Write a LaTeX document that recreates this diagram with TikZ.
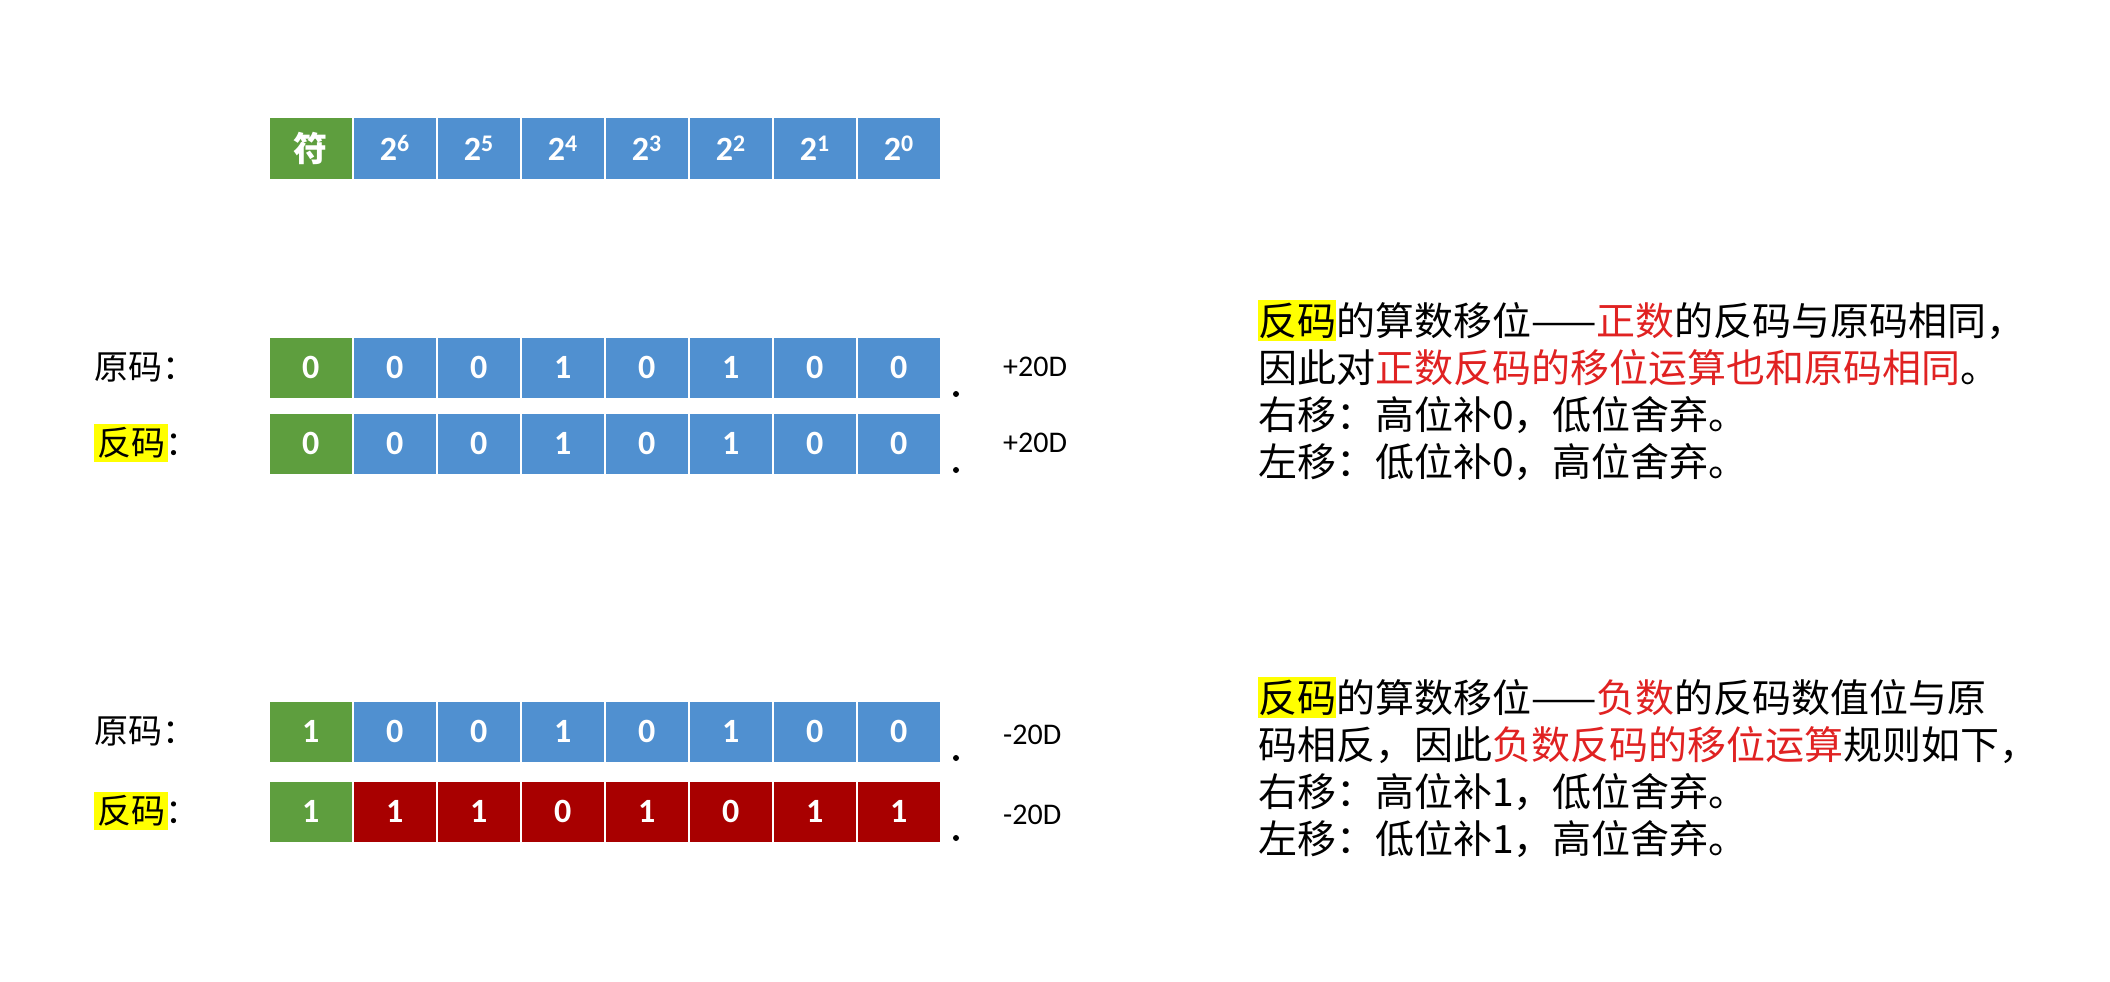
\documentclass[tikz,border=0pt]{standalone}
\usepackage{fontspec}
\setmainfont{Carlito}
\newfontfamily\cjk{Noto Sans CJK SC}
\definecolor{cg}{HTML}{5E9E3E}
\definecolor{cb}{HTML}{5090D0}
\definecolor{cr}{HTML}{A80000}
\definecolor{tr}{HTML}{E02222}
\definecolor{hl}{HTML}{FFFF00}
\begin{document}
\begin{tikzpicture}[x=1pt,y=-1pt,
  cell/.style={draw=white,line width=1.5pt,minimum width=84pt,anchor=north west,text=white,font=\fontsize{34}{34}\selectfont\bfseries,inner sep=0pt},
  lab/.style={anchor=west,font=\cjk\fontsize{34}{40}\selectfont,inner sep=0pt},
  val/.style={anchor=west,font=\fontsize{30}{30}\selectfont,inner sep=0pt},
  dotm/.style={circle,fill=black,inner sep=0pt,minimum size=6pt},
  txt/.style={anchor=base west,font=\cjk\fontsize{39}{47}\selectfont,inner sep=0pt},
  hlb/.style={fill=hl,inner sep=1pt}]
\useasboundingbox (0,0) rectangle (2110,982);
% header row
\foreach \i/\c/\t in {0/cg/{\cjk 符},1/cb/2\textsuperscript{6},2/cb/2\textsuperscript{5},3/cb/2\textsuperscript{4},4/cb/2\textsuperscript{3},5/cb/2\textsuperscript{2},6/cb/2\textsuperscript{1},7/cb/2\textsuperscript{0}}
  \node[cell,fill=\c,minimum height=63pt] (h\i) at (268+84*\i,116) {\t};
% rows
\foreach \r/\y/\bits in {a/336/{cg/0,cb/0,cb/0,cb/1,cb/0,cb/1,cb/0,cb/0},
                          b/412/{cg/0,cb/0,cb/0,cb/1,cb/0,cb/1,cb/0,cb/0},
                          c/700/{cg/1,cb/0,cb/0,cb/1,cb/0,cb/1,cb/0,cb/0},
                          d/780/{cg/1,cr/1,cr/1,cr/0,cr/1,cr/0,cr/1,cr/1}}{
  \foreach \c/\t [count=\k from 0] in \bits
    \node[cell,fill=\c,minimum height=62pt] (\r\k) at (268+84*\k,\y) {\t};
  \node[dotm] (\r dot) at (956,\y+58) {};
}
\node[lab] (la) at (94,367) {原码：};
\node[lab] (lb) at (94,443) {\colorbox{hl}{反码}\hspace{-3pt}：};
\node[lab] (lc) at (94,731) {原码：};
\node[lab] (ld) at (94,811) {\colorbox{hl}{反码}\hspace{-3pt}：};
\node[val] (va) at (1003,367) {+20D};
\node[val] (vb) at (1003,443) {+20D};
\node[val] (vc) at (1003,735) {-20D};
\node[val] (vd) at (1003,815) {-20D};
% right text block 1
\node[txt] (t1) at (1258,335) {\colorbox{hl}{\hspace{-3pt}反码\hspace{-3pt}}的算数移位——\textcolor{tr}{正数}的反码与原码相同，};
\node[txt] (t2) at (1258,382) {因此对\textcolor{tr}{正数反码的移位运算也和原码相同}。};
\node[txt] (t3) at (1258,429) {右移：高位补0，低位舍弃。};
\node[txt] (t4) at (1258,476) {左移：低位补0，高位舍弃。};
% right text block 2
\node[txt] (t5) at (1258,712) {\colorbox{hl}{\hspace{-3pt}反码\hspace{-3pt}}的算数移位——\textcolor{tr}{负数}的反码数值位与原};
\node[txt] (t6) at (1258,759) {码相反，因此\textcolor{tr}{负数反码的移位运算}规则如下，};
\node[txt] (t7) at (1258,806) {右移：高位补1，低位舍弃。};
\node[txt] (t8) at (1258,853) {左移：低位补1，高位舍弃。};
\end{tikzpicture}
\end{document}
